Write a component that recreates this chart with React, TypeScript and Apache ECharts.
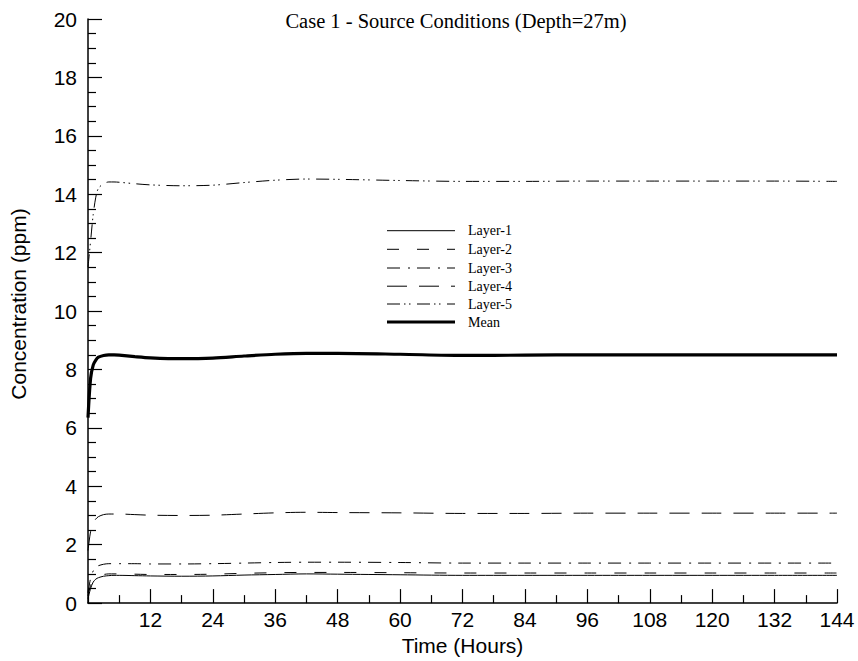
import React, { useEffect, useRef } from "react";
import * as echarts from "echarts";

const hours = [0, 0.5, 1, 1.5, 2, 3, 4, 5, 6, 9, 12, 18, 24, 30, 36, 42, 48, 60, 72, 84, 96, 108, 120, 132, 144];
const layer1 = [0.15, 0.5, 0.72, 0.82, 0.87, 0.92, 0.94, 0.95, 0.95, 0.94, 0.93, 0.92, 0.93, 0.96, 0.98, 1.0, 0.99, 0.97, 0.95, 0.95, 0.95, 0.95, 0.95, 0.95, 0.95];
const layer2 = [0.25, 0.6, 0.8, 0.9, 0.95, 0.98, 1.0, 1.0, 1.0, 0.99, 0.98, 0.98, 0.99, 1.02, 1.04, 1.05, 1.05, 1.04, 1.03, 1.03, 1.03, 1.03, 1.03, 1.03, 1.03];
const layer3 = [0.35, 0.85, 1.1, 1.22, 1.28, 1.33, 1.35, 1.35, 1.35, 1.35, 1.34, 1.34, 1.35, 1.37, 1.39, 1.4, 1.4, 1.39, 1.37, 1.37, 1.37, 1.37, 1.37, 1.37, 1.37];
const layer4 = [1.8, 2.45, 2.75, 2.88, 2.96, 3.03, 3.05, 3.05, 3.05, 3.03, 3.01, 3.0, 3.01, 3.05, 3.09, 3.11, 3.1, 3.09, 3.07, 3.07, 3.08, 3.08, 3.08, 3.08, 3.08];
const layer5 = [11.5, 12.4, 13.3, 13.9, 14.2, 14.36, 14.42, 14.42, 14.41, 14.36, 14.32, 14.29, 14.31, 14.4, 14.48, 14.52, 14.51, 14.47, 14.44, 14.44, 14.45, 14.45, 14.45, 14.45, 14.44];
const mean = [6.35, 7.7, 8.15, 8.32, 8.42, 8.48, 8.5, 8.5, 8.49, 8.44, 8.4, 8.37, 8.39, 8.46, 8.52, 8.55, 8.55, 8.52, 8.48, 8.49, 8.5, 8.5, 8.5, 8.5, 8.5];

const seriesNames = ["Layer-1", "Layer-2", "Layer-3", "Layer-4", "Layer-5", "Mean"];
const seriesValues = [layer1, layer2, layer3, layer4, layer5, mean];
const dashes: any[] = [null, [12, 18], [13, 8, 2, 7], [20, 12], [13, 4, 1.5, 3.5, 1.5, 6.5], null];
const widths = [1, 1, 1, 1, 1, 3.2];

export default function App() {
  const ref = useRef<HTMLDivElement>(null);
  useEffect(() => {
    if (!ref.current) return;
    const chart = echarts.init(ref.current, null, { renderer: "svg" });
    const axisFont = "'Liberation Sans', Arial, sans-serif";
    const serif = "'Liberation Serif', 'Times New Roman', serif";
    const legendRows = [230.7, 249.3, 268, 286.2, 304, 322];
    const graphics: any[] = [];
    seriesNames.forEach((name, i) => {
      graphics.push({
        type: "line",
        shape: { x1: 387, y1: legendRows[i], x2: 455, y2: legendRows[i] },
        style: { stroke: "#000", lineWidth: widths[i], lineDash: dashes[i] || undefined, fill: null },
        silent: true,
      });
      graphics.push({
        type: "text",
        x: 468,
        y: legendRows[i],
        style: { text: name, font: `14px ${serif}`, fill: "#000", verticalAlign: "middle", textVerticalAlign: "middle" },
        silent: true,
      });
    });
    graphics.push({
      type: "text",
      x: 18,
      y: 304,
      rotation: Math.PI / 2,
      style: {
        text: "Concentration (ppm)",
        font: `21px ${axisFont}`,
        fill: "#000",
        align: "center",
        textAlign: "center",
        verticalAlign: "middle",
        textVerticalAlign: "middle",
      },
      silent: true,
    });
    chart.setOption({
      animation: false,
      backgroundColor: "#fff",
      title: {
        text: "Case 1 - Source Conditions (Depth=27m)",
        left: 451,
        textAlign: "center",
        top: 5,
        textStyle: { fontFamily: serif, fontSize: 20.5, fontWeight: "normal", color: "#000" },
      },
      graphic: graphics,
      grid: { left: 88, right: 21, top: 19, bottom: 55, containLabel: false },
      xAxis: {
        type: "value",
        min: 0,
        max: 144,
        interval: 12,
        name: "Time (Hours)",
        nameLocation: "middle",
        nameGap: 29,
        nameTextStyle: { fontFamily: axisFont, fontSize: 21, color: "#000" },
        axisLine: { show: true, lineStyle: { color: "#000", width: 1.5 } },
        axisTick: { show: true, inside: true, length: 14, lineStyle: { color: "#000", width: 1.2 } },
        minorTick: { show: true, splitNumber: 2, length: 8, lineStyle: { color: "#000", width: 1.2 } },
        splitLine: { show: false },
        axisLabel: {
          fontFamily: axisFont,
          fontSize: 21,
          color: "#000",
          margin: 6,
          formatter: (v: number) => (v === 0 ? "" : String(v)),
        },
      },
      yAxis: {
        type: "value",
        min: 0,
        max: 20,
        interval: 2,
        axisLine: { show: true, lineStyle: { color: "#000", width: 1.5 } },
        axisTick: { show: true, inside: true, length: 14, lineStyle: { color: "#000", width: 1.2 } },
        minorTick: { show: true, splitNumber: 4, length: 8, lineStyle: { color: "#000", width: 1.2 } },
        splitLine: { show: false },
        axisLabel: { fontFamily: axisFont, fontSize: 21, color: "#000", margin: 11 },
      },
      series: seriesNames.map((name, i) => ({
        name,
        type: "line",
        data: hours.map((h, j) => [h, seriesValues[i][j]]),
        showSymbol: false,
        symbol: "none",
        smooth: 0.3,
        lineStyle: { color: "#000", width: widths[i], type: dashes[i] || "solid" },
        itemStyle: { color: "#000" },
        z: i === 5 ? 3 : 2,
      })),
    });
    return () => chart.dispose();
  }, []);
  return <div ref={ref} style={{ width: 858, height: 661, position: "absolute", left: 0, top: 0 }} />;
}
